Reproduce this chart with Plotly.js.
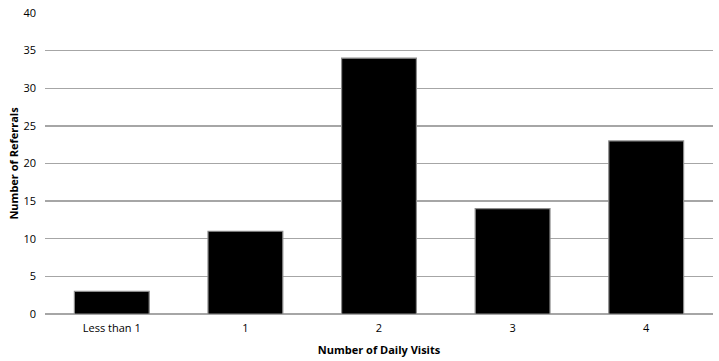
<!DOCTYPE html>
<html>
<head>
<meta charset="utf-8">
<script src="https://cdn.plot.ly/plotly-3.0.1.min.js"></script>
<style>html,body{margin:0;padding:0;background:#fff;}#chart{width:719px;height:361px;}</style>
</head>
<body>
<div id="chart"></div>
<script>
const categories = ["Less than 1", "1", "2", "3", "4"];
const referrals = [3, 11, 34, 14, 23];
const yTicks = [0, 5, 10, 15, 20, 25, 30, 35, 40];

const trace = {
  type: "bar",
  x: categories,
  y: referrals,
  marker: {color: "#000000", line: {color: "#8c8c8c", width: 1.2}},
  hoverinfo: "x+y"
};

const layout = {
  width: 719,
  height: 361,
  margin: {l: 45, r: 6, t: 13, b: 47},
  paper_bgcolor: "#ffffff",
  plot_bgcolor: "#ffffff",
  bargap: 0.44,
  showlegend: false,
  font: {family: "Open Sans, Liberation Sans, sans-serif", size: 11, color: "#000"},
  xaxis: {
    type: "category",
    showgrid: false,
    showline: false,
    ticks: "",
    ticklabelstandoff: 6,
    tickfont: {size: 11},
    title: {text: "<b>Number of Daily Visits</b>", font: {size: 11}, standoff: 12}
  },
  yaxis: {
    range: [0, 40],
    tickvals: yTicks,
    ticktext: yTicks.map(String),
    showgrid: true,
    gridcolor: "#a6a6a6",
    gridwidth: 1.4,
    zeroline: true,
    zerolinecolor: "#a6a6a6",
    zerolinewidth: 1.4,
    showline: false,
    ticks: "",
    ticklabelstandoff: 8,
    tickfont: {size: 11},
    title: {text: "<b>Number of Referrals</b>", font: {size: 11}, standoff: 2}
  }
};

Plotly.newPlot("chart", [trace], layout, {displayModeBar: false, staticPlot: true});
</script>
</body>
</html>
